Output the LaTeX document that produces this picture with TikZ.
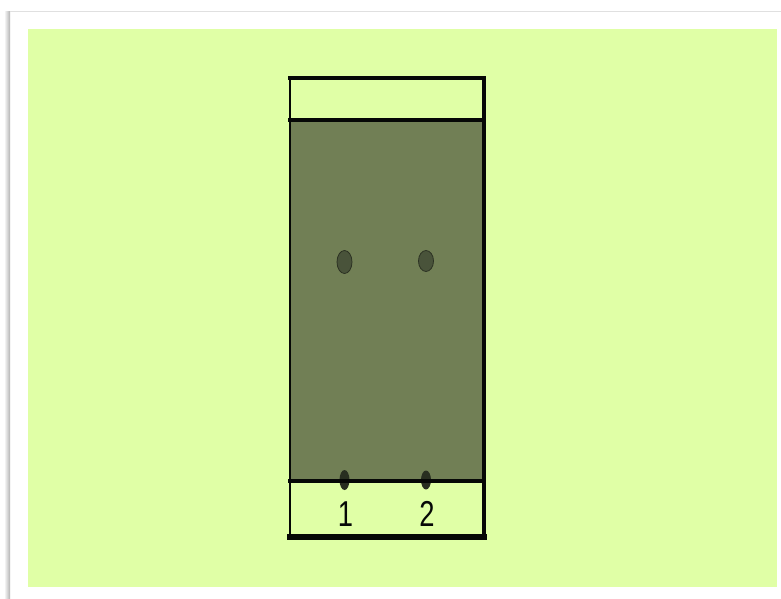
\documentclass[tikz,border=0pt]{standalone}
\usepackage{fontspec}
\usepackage{xcolor}
\usepackage{tikz}
\usetikzlibrary{shapes.geometric}
\setmainfont{Liberation Sans}
\definecolor{panelgreen}{HTML}{E0FFA6}
\definecolor{gelgreen}{HTML}{717F55}
\definecolor{spotgreen}{HTML}{49533A}
\definecolor{inkblack}{HTML}{060806}

\begin{document}
\begin{tikzpicture}[
  x=0.75pt, y=-0.75pt,
  gel/.style   ={draw=none, fill=gelgreen, minimum width=194*0.75pt,
                  minimum height=361*0.75pt, inner sep=0pt},
  spot/.style  ={ellipse, fill=spotgreen, draw=spotgreen!60!black, line width=0.6pt, inner sep=0pt},
  origin/.style={ellipse, fill=spotgreen!55!black, inner sep=0pt,
                  minimum width=10*0.75pt, minimum height=20*0.75pt},
  lane/.style  ={font=\fontsize{27}{27}\selectfont, text=inkblack, xscale=0.76, inner sep=0pt},
  rim/.style   ={inkblack, line cap=rect}
]
  \useasboundingbox (0,0) rectangle (781,599);
  % sheet and its shadow
  \fill[white] (0,0) rectangle (781,599);
  \shade[left color=white, right color=black!30] (4,12) rectangle (10,599);
  \fill[black!12] (10,11.5) rectangle (781,12.5);
  \node[draw=none, fill=panelgreen, minimum width=749*0.75pt, minimum height=558*0.75pt,
        inner sep=0pt] (panel) at (402.5,308) {};

  % plate
  \node[gel]  (plate) at (387,300.5) {};
  \coordinate (tl) at (290,78);
  \coordinate (tr) at (484,78);
  \coordinate (ml) at (290,120);
  \coordinate (mr) at (484,120);
  \coordinate (nl) at (290,481);
  \coordinate (nr) at (484,481);
  \coordinate (bl) at (290,537);
  \coordinate (br) at (484,537);

  % spots
  \node[spot, minimum width=15*0.75pt, minimum height=23*0.75pt] (s1) at (344.5,262) {};
  \node[spot, minimum width=15*0.75pt, minimum height=21*0.75pt] (s2) at (426,261) {};
  \node[origin] (o1) at (344.5,480) {};
  \node[origin, minimum height=19*0.75pt] (o2) at (426,480) {};

  % outline
  \draw[rim, line width=2.8pt] (tl) -- (tr);
  \draw[rim, line width=2.2pt] (tl) -- (bl);
  \draw[rim, line width=3.2pt] (tr) -- (br);
  \draw[rim, line width=3.4pt] (ml) -- (mr);
  \draw[rim, line width=2.8pt] (nl) -- (nr);
  \draw[rim, line width=4.6pt] (bl) -- (br);

  \node[lane] (n1) at (345.5,514) {1};
  \node[lane] (n2) at (427,514) {2};
\end{tikzpicture}
\end{document}
